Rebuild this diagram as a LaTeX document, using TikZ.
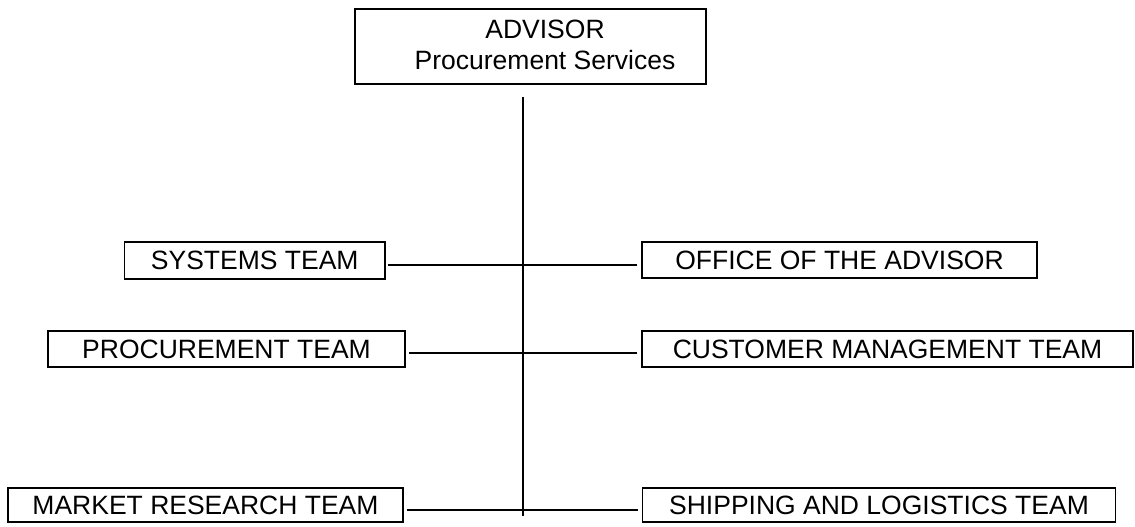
\documentclass[tikz,border=0pt]{standalone}
\usepackage{fontspec}
\setmainfont{Liberation Sans}
\begin{document}
\begin{tikzpicture}[x=1pt,y=-1pt,
  box/.style={draw=black, line width=1.7pt, inner sep=0pt, font=\fontsize{26.5}{31}\selectfont},
  conn/.style={draw=black, line width=1.3pt}]
\useasboundingbox (0,0) rectangle (1135,527);
% top box
\node[box, minimum width=351, minimum height=75] (top) at (530.5,46.5) {};
\node[align=center, inner sep=0pt, font=\fontsize{26.5}{31}\selectfont] (toptext) at (545,45) {ADVISOR\\Procurement Services};
% row 1
\node[box, minimum width=260.5, minimum height=37] (sys) at (254.75,260.5) {SYSTEMS TEAM};
\node[box, minimum width=395, minimum height=36] (off) at (839.5,260) {OFFICE OF THE ADVISOR};
% row 2
\node[box, minimum width=357, minimum height=36] (proc) at (226.5,349) {PROCUREMENT TEAM};
\node[box, minimum width=491, minimum height=36] (cust) at (887.5,349) {CUSTOMER MANAGEMENT TEAM};
% row 3
\node[box, minimum width=395, minimum height=34] (mkt) at (205.5,505) {MARKET RESEARCH TEAM};
\node[box, minimum width=473, minimum height=34] (ship) at (879,505) {SHIPPING AND LOGISTICS TEAM};
% vertical trunk
\coordinate (vtop) at (523,97);
\coordinate (vend) at (523,516);
\draw[conn] (vtop) -- (vend);
% horizontal connectors
\draw[conn, shorten <=2pt, shorten >=4pt] ([yshift=-4.5pt]sys.east) -- ([yshift=-4.5pt]sys.east -| off.west);
\draw[conn, shorten <=3pt, shorten >=4pt] ([yshift=-4pt]proc.east) -- ([yshift=-4pt]proc.east -| cust.west);
\draw[conn, shorten <=3pt, shorten >=4pt] ([yshift=-5pt]mkt.east) -- ([yshift=-5pt]mkt.east -| ship.west);
\end{tikzpicture}
\end{document}
